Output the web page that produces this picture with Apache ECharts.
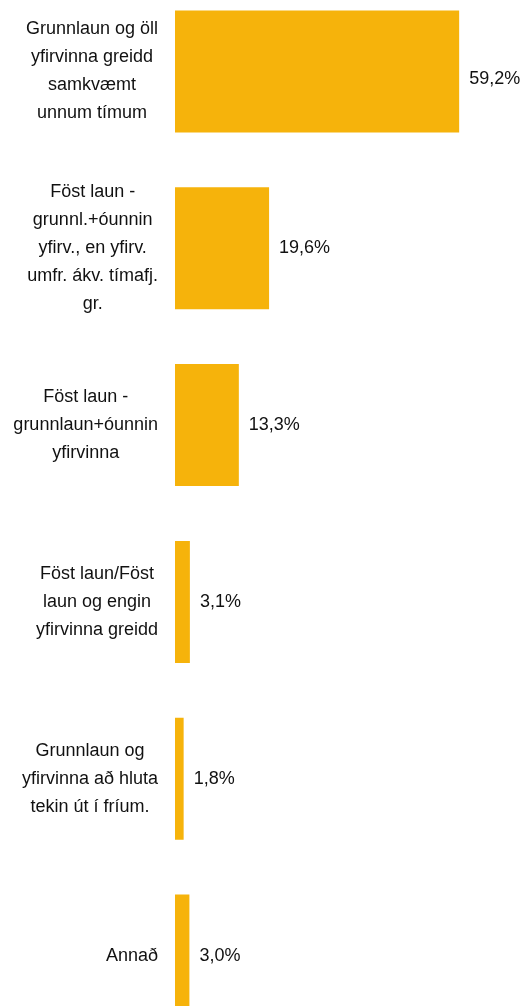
<!DOCTYPE html>
<html lang="is">
<head>
    <meta charset="UTF-8">
    <title>Launafyrirkomulag</title>
    <script src="https://cdn.jsdelivr.net/npm/echarts@6/dist/echarts.min.js"></script>
    <style>
        html, body { margin: 0; padding: 0; background: #fff; overflow: hidden; }
        /* neðsta súlan er skorin af í frummyndinni, svo teikniflöturinn nær út fyrir gluggann */
        #charts { position: relative; top: -17px; width: 526px; height: 1061px; }
    </style>
</head>
<body>
<div id="charts"></div>

<script>
    // flokkar (línuskil eins og á myndinni)
    var categories = [
        'Grunnlaun og öll\nyfirvinna greidd\nsamkvæmt\nunnum tímum',
        'Föst laun -\ngrunnl.+óunnin\nyfirv., en yfirv.\numfr. ákv. tímafj.\ngr.',
        'Föst laun -\ngrunnlaun+óunnin\nyfirvinna',
        'Föst laun/Föst\nlaun og engin\nyfirvinna greidd',
        'Grunnlaun og\nyfirvinna að hluta\ntekin út í fríum.',
        'Annað'
    ];
    // hlutfall (%)
    var values = [59.2, 19.6, 13.3, 3.1, 1.8, 3.0];

    var font = '"Liberation Sans", Arial, sans-serif';
    var myChart = echarts.init(document.getElementById('charts'));

    myChart.setOption({
        animation: false,
        grid: { left: 175, top: 0, width: 288, height: 1061, containLabel: false, outerBoundsMode: 'none' },
        xAxis: {
            type: 'value', min: 0, max: 60, show: false
        },
        yAxis: {
            type: 'category',
            inverse: true,
            data: categories,
            axisLine: { show: false },
            axisTick: { show: false },
            axisLabel: {
                margin: 17,
                align: 'right',
                formatter: function (v) {
                    return v.split('\n').map(function (s) { return '{c|' + s + '}'; }).join('\n');
                },
                rich: {
                    c: { align: 'center', fontFamily: font, fontSize: 18, lineHeight: 28, color: '#111' }
                }
            }
        },
        series: [{
            type: 'bar',
            data: values.map(function (v, i) {
                return i === 0 ? { value: v, label: { offset: [0, 8] } } : v;
            }),
            barCategoryGap: '31%',
            itemStyle: { color: '#F6B30B' },
            label: {
                show: true,
                position: 'right',
                distance: 10,
                fontFamily: font,
                fontSize: 18,
                color: '#111',
                formatter: function (p) { return p.value.toFixed(1).replace('.', ',') + '%'; }
            }
        }]
    });
</script>
</body>
</html>
